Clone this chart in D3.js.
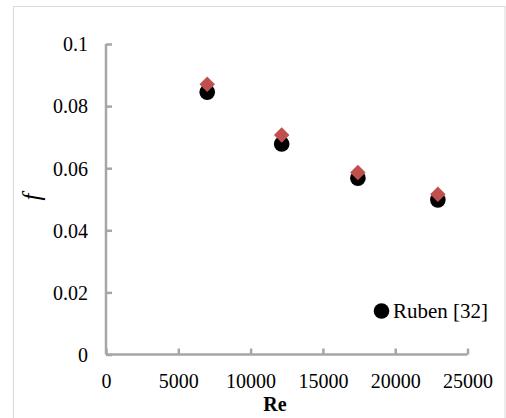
<!DOCTYPE html>
<html>
<head>
<meta charset="utf-8">
<script src="https://cdn.jsdelivr.net/npm/d3@7"></script>
<style>
  html, body { margin: 0; padding: 0; background: #fff; }
  svg { display: block; }
</style>
</head>
<body>
<svg id="chart" width="506" height="418"></svg>
<script>
// Reynolds numbers of the test points
const reynolds = [7000, 12150, 17420, 22950];
// Friction factor, reference correlation (Ruben [32])
const fRuben = [0.0845, 0.0678, 0.0568, 0.0498];
// Friction factor, present results
const fPresent = [0.0870, 0.0707, 0.0586, 0.0516];
// Axis ticks
const xTicks = [0, 5000, 10000, 15000, 20000, 25000];
const yTicks = [0, 0.02, 0.04, 0.06, 0.08, 0.1];
const legendLabel = "Ruben [32]";

const SERIF = "'Liberation Serif', 'Times New Roman', Times, serif";
const svg = d3.select("#chart");
const H = 418;

// Chart frame
svg.append("rect")
  .attr("x", 13.5).attr("y", 6.5)
  .attr("width", 491.5).attr("height", H)
  .attr("fill", "#fff").attr("stroke", "#d9d9d9").attr("stroke-width", 1);

const x = d3.scaleLinear().domain([0, 25000]).range([106, 467.5]);
const y = d3.scaleLinear().domain([0, 0.1]).range([354.5, 44]);

const axisColor = "#a6a6a6";

// X axis (ticks point up into the plot)
const gx = svg.append("g").attr("transform", `translate(0,${y(0)})`)
  .call(d3.axisBottom(x).tickValues(xTicks).tickSize(-6).tickPadding(0).tickFormat(d3.format("d")));
gx.attr("font-family", SERIF).attr("font-size", 20);
gx.select(".domain").attr("d", `M${x(0)},0H${x(25000)}`);
gx.selectAll("path, line").attr("stroke", axisColor).attr("stroke-width", 2.5);
gx.selectAll("text").attr("dy", null).attr("y", 33).attr("fill", "#000");

// Y axis (ticks point right into the plot)
const gy = svg.append("g").attr("transform", `translate(${x(0)},0)`)
  .call(d3.axisLeft(y).tickValues(yTicks).tickSize(-6).tickPadding(0)
    .tickFormat(d => String(+d.toFixed(2))));
gy.attr("font-family", SERIF).attr("font-size", 20);
gy.select(".domain").attr("d", `M0,${y(0)}V${y(0.1)}`);
gy.selectAll("path, line").attr("stroke", axisColor).attr("stroke-width", 2.5);
gy.selectAll("text").attr("x", -18).attr("dy", "0.34em").attr("fill", "#000");

// Axis titles
svg.append("text")
  .attr("x", 275).attr("y", 411)
  .attr("text-anchor", "middle")
  .attr("font-family", SERIF)
  .attr("font-size", 20).attr("font-weight", "bold")
  .text("Re");
svg.append("text")
  .attr("transform", "translate(40,197) rotate(-90)")
  .attr("text-anchor", "middle")
  .attr("font-family", SERIF)
  .attr("font-size", 25).attr("font-style", "italic")
  .text("f");

// Reference series: black circles
const pts = reynolds.map((re, i) => ({ re, a: fRuben[i], b: fPresent[i] }));
svg.append("g").selectAll("circle").data(pts).join("circle")
  .attr("cx", d => x(d.re)).attr("cy", d => y(d.a))
  .attr("r", 7.8).attr("fill", "#000");

// Present series: red diamonds
const diamond = d3.symbol().type(d3.symbolSquare).size(120);
svg.append("g").selectAll("path").data(pts).join("path")
  .attr("transform", d => `translate(${x(d.re)},${y(d.b)}) rotate(45)`)
  .attr("d", diamond())
  .attr("fill", "#c0504d");

// Legend
const lg = svg.append("g");
lg.append("circle").attr("cx", 381.5).attr("cy", 311).attr("r", 7.8).attr("fill", "#000");
lg.append("text").attr("x", 393).attr("y", 318)
  .attr("font-family", SERIF).attr("font-size", 21).text(legendLabel);
</script>
</body>
</html>
